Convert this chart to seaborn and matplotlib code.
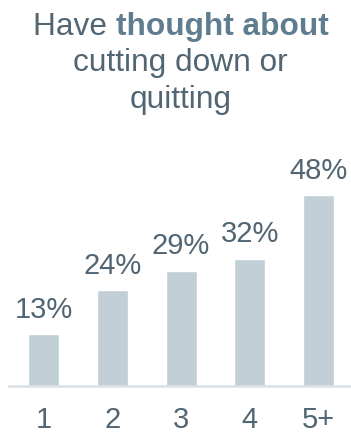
import matplotlib
matplotlib.use("Agg")
import matplotlib.pyplot as plt
import seaborn as sns
import pandas as pd

categories = ["1", "2", "3", "4", "5+"]
values = [13, 24, 29, 32, 48]
value_labels = ["13%", "24%", "29%", "32%", "48%"]

sns.set_theme(style="white")
plt.rcParams["font.family"] = ["Liberation Sans", "DejaVu Sans"]

BAR = "#c2cfd7"
TXT = "#516573"
BOLD = "#5f7d8f"
AXIS = "#d9e1e6"

W, H = 351, 433
fig = plt.figure(figsize=(W / 100, H / 100), dpi=100)
base_px = 385.5
px_per = 3.96
ymax = 60
ax = fig.add_axes([9 / W, (H - base_px) / H, 342 / W, ymax * px_per / H])

df = pd.DataFrame({"cat": categories, "val": values})
sns.barplot(data=df, x="cat", y="val", color=BAR, saturation=1, width=0.45, ax=ax)
ax.set_xlim(-0.502, 4.472)
ax.set_ylim(0, ymax)
for s in ["top", "right", "left"]:
    ax.spines[s].set_visible(False)
ax.spines["bottom"].set_color(AXIS)
ax.spines["bottom"].set_linewidth(1.8)
ax.set_yticks([])
ax.set_xlabel("")
ax.set_ylabel("")
ax.tick_params(axis="x", length=0, pad=15, labelsize=21, labelcolor=TXT)
ax.bar_label(ax.containers[0], labels=value_labels, padding=7.5, fontsize=21, color=TXT)

# Title (mixed weight on first line)
cx = 180.5
TS = 22.8
fig.canvas.draw()
r = fig.canvas.get_renderer()
t1 = fig.text(0, 1 - 35 / H, "Have ", fontsize=TS, color=TXT, va="baseline", ha="left")
t2 = fig.text(0, 1 - 35 / H, "thought about", fontsize=TS, color=BOLD, fontweight="bold",
              va="baseline", ha="left")
w1 = t1.get_window_extent(r).width
w2 = t2.get_window_extent(r).width
x0 = cx - (w1 + w2) / 2
t1.set_x(x0 / W)
t2.set_x((x0 + w1) / W)
fig.text(cx / W, 1 - 71.5 / H, "cutting down or", fontsize=TS, color=TXT, va="baseline", ha="center")
fig.text(cx / W, 1 - 108 / H, "quitting", fontsize=TS, color=TXT, va="baseline", ha="center")

fig.savefig("out.png", dpi=100)
